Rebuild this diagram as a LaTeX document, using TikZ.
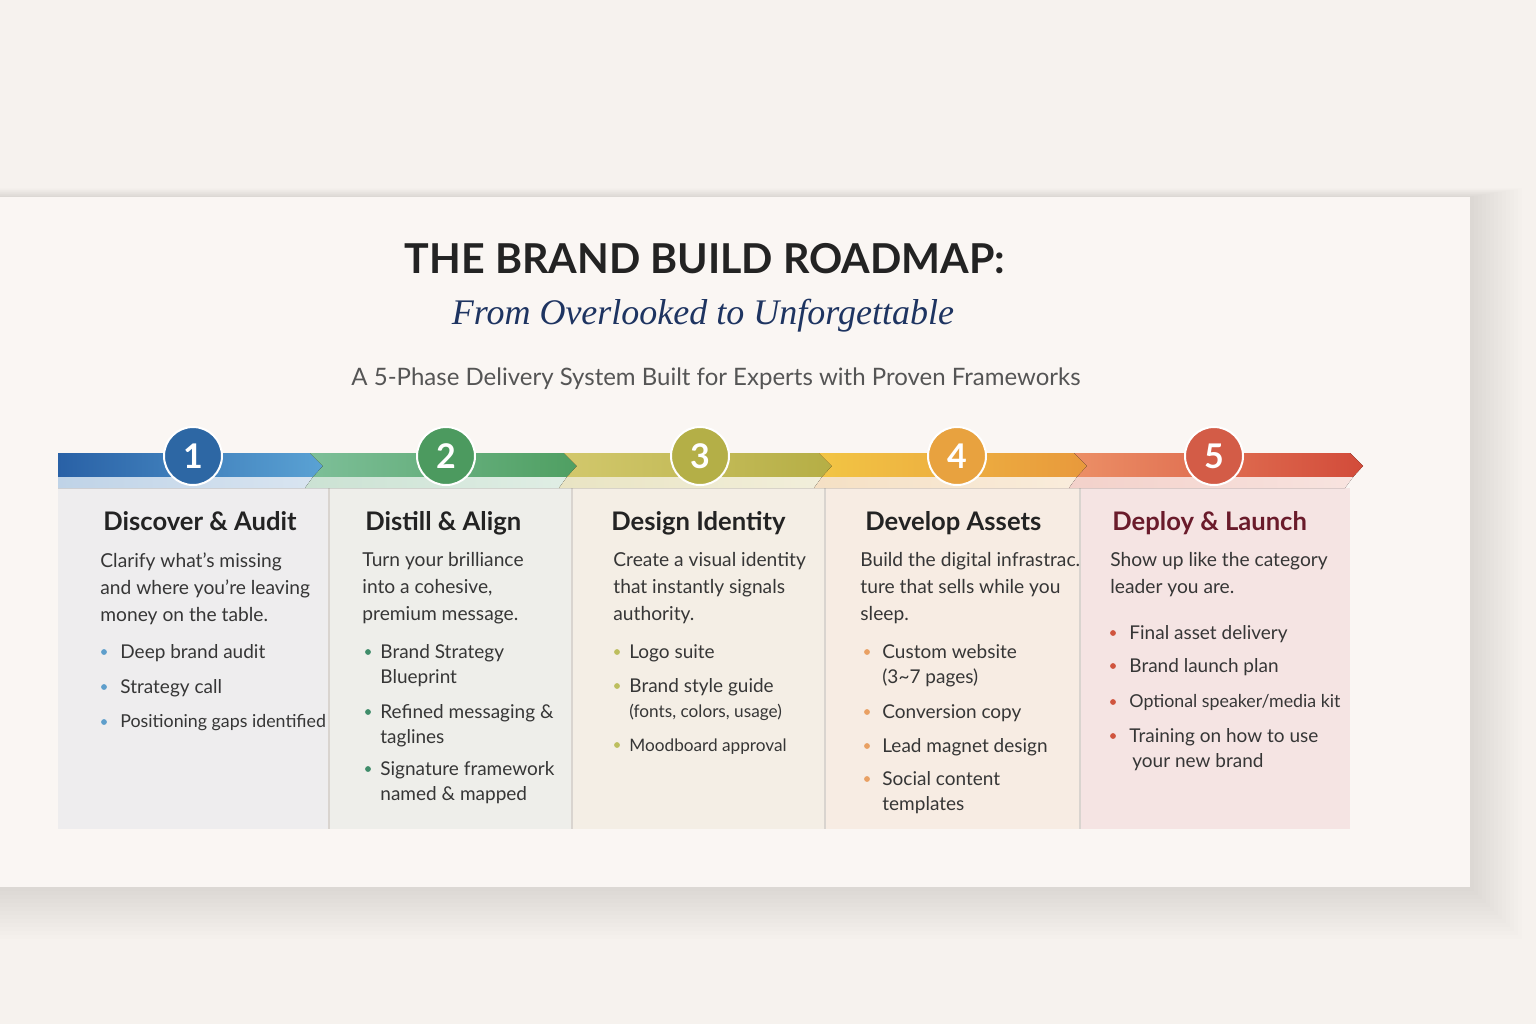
\documentclass[tikz,border=0pt]{standalone}
\usepackage{fontspec}
\setmainfont{Lato}
\newfontfamily\subfont{Liberation Serif}
\definecolor{bg}{HTML}{F6F2EE}
\definecolor{card}{HTML}{FAF6F3}
\definecolor{ink}{HTML}{232323}
\definecolor{txt}{HTML}{363636}
\definecolor{navy}{HTML}{1E3461}
\definecolor{grey}{HTML}{555555}
\definecolor{wine}{HTML}{6A1B2B}
\definecolor{rule}{HTML}{D9D4CF}
\definecolor{panelA}{HTML}{EEEDEE}
\definecolor{panelB}{HTML}{EEEEEA}
\definecolor{panelC}{HTML}{F4EEE5}
\definecolor{panelD}{HTML}{F7ECE3}
\definecolor{panelE}{HTML}{F5E4E3}
\definecolor{blueA}{HTML}{2961A6}
\definecolor{blueB}{HTML}{5AA2D4}
\definecolor{blueL}{HTML}{BFD3E7}
\definecolor{blueC}{HTML}{2D67A4}
\definecolor{blueD}{HTML}{5E9ECB}
\definecolor{greenA}{HTML}{7DBF98}
\definecolor{greenB}{HTML}{4F9F62}
\definecolor{greenL}{HTML}{CBE2D3}
\definecolor{greenC}{HTML}{4C9A5F}
\definecolor{greenD}{HTML}{3F8C6A}
\definecolor{oliveA}{HTML}{D2C86C}
\definecolor{oliveB}{HTML}{B5AE45}
\definecolor{oliveL}{HTML}{E9E4C3}
\definecolor{oliveC}{HTML}{B4AF47}
\definecolor{oliveD}{HTML}{BDBE5E}
\definecolor{orangeA}{HTML}{F2C544}
\definecolor{orangeB}{HTML}{E8993C}
\definecolor{orangeL}{HTML}{F5E0C4}
\definecolor{orangeC}{HTML}{E8A23F}
\definecolor{orangeD}{HTML}{E9A063}
\definecolor{redA}{HTML}{EC8F66}
\definecolor{redB}{HTML}{D24B3A}
\definecolor{redL}{HTML}{F3D1CA}
\definecolor{redC}{HTML}{D35C47}
\definecolor{redD}{HTML}{D0543E}

\begin{document}
\begin{tikzpicture}[x=0.5pt, y=-0.5pt,
  every node/.style={inner sep=0pt},
  head/.style={anchor=base west, font=\fontsize{12.8}{15}\selectfont\bfseries, text=ink},
  body/.style={anchor=north west, align=left, font=\fontsize{9.6}{13.5}\selectfont, text=txt},
  pt/.style={anchor=north west, align=left, font=\fontsize{9.5}{12.5}\selectfont, text=txt},
  tight/.style={font=\fontsize{8.9}{12.5}\selectfont},
  num/.style={circle, draw=white, line width=1pt, minimum size=29pt, text=white,
    font=\fontsize{17}{17}\selectfont\bfseries}]
  \useasboundingbox (0,0) rectangle (1536,1024);
  \fill[bg] (0,0) rectangle (1536,1024);
  % card with soft shadow
  \foreach \s in {4,8,...,52}
    \fill[black, opacity=0.006] (-10,197-\s/6) rectangle (1470+\s,887+\s);
  \fill[card] (0,197) rectangle (1470,887);

  % heading
  \node[font=\fontsize{20.6}{24}\selectfont\bfseries, text=ink] (title) at (705,259) {THE BRAND BUILD ROADMAP:};
  \node[font=\subfont\itshape\fontsize{18}{22}\selectfont, text=navy] (sub) at (703,316) {From Overlooked to Unforgettable};
  \node[font=\fontsize{12}{14}\selectfont, text=grey] (tag) at (716,379) {A 5-Phase Delivery System Built for Experts with Proven Frameworks};

  % columns
  \fill[panelA] (58,488) rectangle (329,829);
  \fill[panelB] (329,488) rectangle (572,829);
  \fill[panelC] (572,488) rectangle (825,829);
  \fill[panelD] (825,488) rectangle (1080,829);
  \fill[panelE] (1080,488) rectangle (1350,829);
  \foreach \x in {329,572,825,1080}
    \draw[rule, line width=1pt] (\x,488) -- (\x,829);

  % arrow band
  \fill[left color=blueA, right color=blueB] (58,453) -- (310,453) -- (323,466) -- (313,477) -- (58,477) -- cycle;
  \fill[left color=blueL, right color=blueL!60!white] (58,477) -- (313,477) -- (305,488) -- (58,488) -- cycle;
  \fill[left color=greenA, right color=greenB] (310,453) -- (564,453) -- (577,466) -- (567,477) -- (313,477) -- (323,466) -- cycle;
  \fill[left color=greenL, right color=greenL!60!white] (313,477) -- (567,477) -- (559,488) -- (305,488) -- cycle;
  \fill[left color=oliveA, right color=oliveB] (564,453) -- (819,453) -- (832,466) -- (822,477) -- (567,477) -- (577,466) -- cycle;
  \fill[left color=oliveL, right color=oliveL!60!white] (567,477) -- (822,477) -- (814,488) -- (559,488) -- cycle;
  \fill[left color=orangeA, right color=orangeB] (819,453) -- (1074,453) -- (1087,466) -- (1077,477) -- (822,477) -- (832,466) -- cycle;
  \fill[left color=orangeL, right color=orangeL!60!white] (822,477) -- (1077,477) -- (1069,488) -- (814,488) -- cycle;
  \fill[left color=redA, right color=redB] (1074,453) -- (1350,453) -- (1363,466) -- (1353,477) -- (1077,477) -- (1087,466) -- cycle;
  \fill[left color=redL, right color=redL!60!white] (1077,477) -- (1353,477) -- (1345,488) -- (1069,488) -- cycle;

  \node[num, fill=blueC] (n1) at (193,456) {1};
  \node[num, fill=greenC] (n2) at (446,456) {2};
  \node[num, fill=oliveC] (n3) at (700,456) {3};
  \node[num, fill=orangeC] (n4) at (957,456) {4};
  \node[num, fill=redC] (n5) at (1214,456) {5};

  % phase 1
  \node[head] (h1) at (103,530) {Discover \& Audit};
  \node[body] (d1) at (100,552) {Clarify what's missing\\and where you're leaving\\money on the table.};
  \fill[blueD] (104,652) circle (2.9) (104,687) circle (2.9) (104,722) circle (2.9);
  \node[pt] (p11) at (120,644) {Deep brand audit};
  \node[pt] (p12) at (120,679) {Strategy call};
  \node[pt, tight] (p13) at (120,714) {Positioning gaps identified};

  % phase 2
  \node[head] (h2) at (365,530) {Distill \& Align};
  \node[body] (d2) at (362,552) {Turn your brilliance\\into a cohesive,\\premium message.};
  \fill[greenD] (368,652) circle (2.9) (368,712) circle (2.9) (368,769) circle (2.9);
  \node[pt] (p21) at (380,644) {Brand Strategy\\Blueprint};
  \node[pt] (p22) at (380,704) {Refined messaging \&\\taglines};
  \node[pt] (p23) at (380,761) {Signature framework\\named \& mapped};

  % phase 3
  \node[head] (h3) at (611,530) {Design Identity};
  \node[body] (d3) at (613,552) {Create a visual identity\\that instantly signals\\authority.};
  \fill[oliveD] (617,652) circle (2.9) (617,686) circle (2.9) (617,745) circle (2.9);
  \node[pt] (p31) at (629,644) {Logo suite};
  \node[pt] (p32) at (629,678) {Brand style guide\\{\fontsize{8.6}{13}\selectfont(fonts, colors, usage)}};
  \node[pt, font=\fontsize{8.6}{12.5}\selectfont] (p33) at (629,738) {Moodboard approval};

  % phase 4
  \node[head] (h4) at (865,530) {Develop Assets};
  \node[body] (d4) at (860,552) {Build the digital infrastrac.\\ture that sells while you\\sleep.};
  \fill[orangeD] (867,652) circle (2.9) (867,712) circle (2.9) (867,746) circle (2.9) (867,779) circle (2.9);
  \node[pt] (p41) at (882,644) {Custom website\\(3\textasciitilde7 pages)};
  \node[pt] (p42) at (882,704) {Conversion copy};
  \node[pt] (p43) at (882,738) {Lead magnet design};
  \node[pt] (p44) at (882,771) {Social content\\templates};

  % phase 5
  \node[head, text=wine] (h5) at (1112,530) {Deploy \& Launch};
  \node[body] (d5) at (1110,552) {Show up like the category\\leader you are.};
  \fill[redD] (1113,633) circle (2.9) (1113,666) circle (2.9) (1113,702) circle (2.9) (1113,736) circle (2.9);
  \node[pt] (p51) at (1129,625) {Final asset delivery};
  \node[pt] (p52) at (1129,658) {Brand launch plan};
  \node[pt, tight] (p53) at (1129,694) {Optional speaker/media kit};
  \node[pt] (p54) at (1129,728) {Training on how to use\\\hspace{1.5pt}your new brand};
\end{tikzpicture}
\end{document}
